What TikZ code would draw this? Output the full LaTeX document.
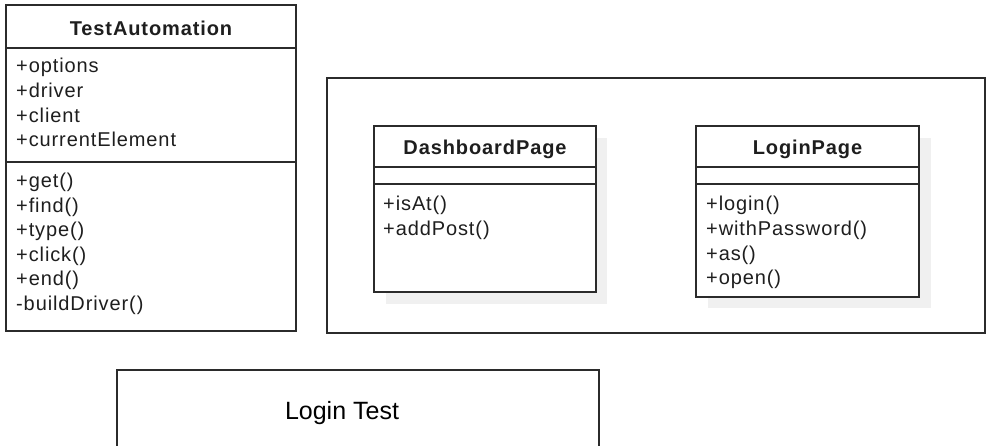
\documentclass[tikz,border=0pt]{standalone}
\usepackage{fontspec}
\setmainfont{Liberation Sans}
\newfontfamily\umlfont[LetterSpace=4.5]{Liberation Sans}
\definecolor{umlink}{HTML}{2B2B2B}
\definecolor{umltext}{HTML}{1E1E1E}
\definecolor{shadowgray}{HTML}{F0F0F0}
\begin{document}
\begin{tikzpicture}[x=1pt,y=-1pt,
  umlline/.style={draw=umlink, line width=1.5pt},
  boxfill/.style={umlline, fill=white},
  shadowfill/.style={fill=shadowgray},
  classtitle/.style={font=\umlfont\bfseries\fontsize{20}{24}\selectfont, text=umltext, anchor=base, inner sep=0pt},
  member/.style={font=\umlfont\fontsize{20}{24}\selectfont, text=umltext, anchor=base west, inner sep=0pt},
  testlabel/.style={font=\fontsize{25}{30}\selectfont, anchor=base, inner sep=0pt}]
\useasboundingbox (0,0) rectangle (986,446);

% TestAutomation class
\draw[boxfill] (6,5) rectangle (296,331);
\draw[umlline] (6,48) -- (296,48);
\draw[umlline] (6,162) -- (296,162);
\node[classtitle] (ta-title) at (151,36) {TestAutomation};
\foreach \t [count=\i] in {+options,+driver,+client,+currentElement}
  \node[member] (ta-attr\i) at (16,{73+24.6*(\i-1)}) {\t};
\foreach \t [count=\i] in {+get(),+find(),+type(),+click(),+end(),-buildDriver()}
  \node[member] (ta-op\i) at (16,{187.5+24.6*(\i-1)}) {\t};

% page objects package frame
\draw[umlline] (327,78) rectangle (985,333);

% DashboardPage class
\fill[shadowfill] (386,138) rectangle (607,304);
\draw[boxfill] (374,126) rectangle (596,292);
\draw[umlline] (374,167) -- (596,167);
\draw[umlline] (374,184) -- (596,184);
\node[classtitle] (dp-title) at (485,155) {DashboardPage};
\foreach \t [count=\i] in {+isAt(),+addPost()}
  \node[member] (dp-op\i) at (383,{211+24.6*(\i-1)}) {\t};

% LoginPage class
\fill[shadowfill] (708,138) rectangle (931,308);
\draw[boxfill] (696,126) rectangle (919,297);
\draw[umlline] (696,167) -- (919,167);
\draw[umlline] (696,184) -- (919,184);
\node[classtitle] (lp-title) at (807.5,155) {LoginPage};
\foreach \t [count=\i] in {+login(),+withPassword(),+as(),+open()}
  \node[member] (lp-op\i) at (706,{211+24.6*(\i-1)}) {\t};

% Login Test frame, running past the bottom edge
\draw[umlline] (117,448) -- (117,370) -- (599,370) -- (599,448);
\node[testlabel] (lt-title) at (342,420) {Login Test};
\end{tikzpicture}
\end{document}
